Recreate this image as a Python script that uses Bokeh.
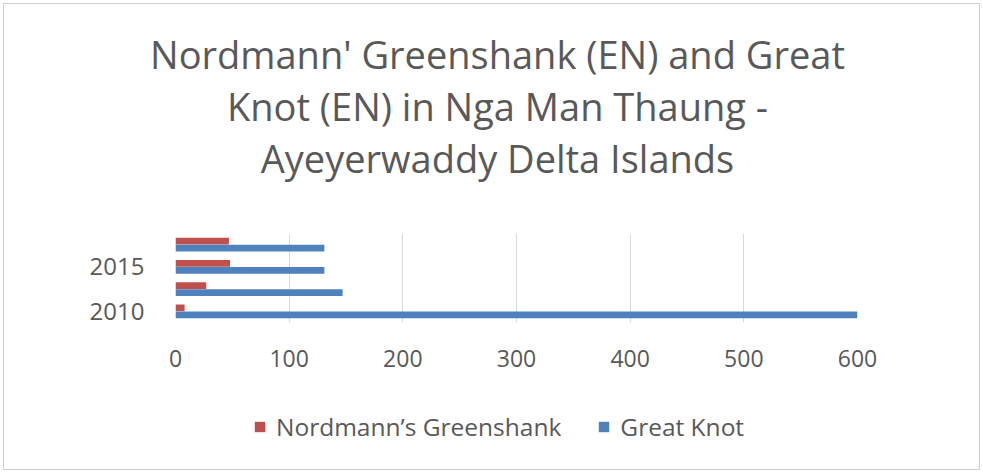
from bokeh.plotting import figure
from bokeh.models import (FactorRange, Range1d, FixedTicker, Legend, LegendItem,
                          ColumnDataSource, CustomJSTickFormatter)
from bokeh.core.properties import value
from bokeh.layouts import column
from bokeh.transform import dodge
from bokeh.embed import file_html
from bokeh.resources import INLINE

# ---- data ----
years = ["2010", "2013", "2015", "2016"]
year_labels = {"2010": "2010", "2013": "", "2015": "2015", "2016": ""}
greenshank = [8, 27, 48, 47]
great_knot = [600, 147, 131, 131]
x_ticks = [0, 100, 200, 300, 400, 500, 600]
title_lines = ["Nordmann' Greenshank (EN) and Great",
               "Knot (EN) in Nga Man Thaung -",
               "Ayeyerwaddy Delta Islands"]
series_names = ["Nordmann\u2019s Greenshank", "Great Knot"]

RED = "#C0504D"
BLUE = "#4F81BD"
TXT = "#595959"
FONT = "Open Sans"
W = 983


def clear(fig):
    fig.border_fill_alpha = 0
    fig.background_fill_alpha = 0
    fig.outline_line_color = None


# ---------------- title strip ----------------
TH = 200
tf = figure(width=W, height=TH, output_backend="svg", toolbar_location=None,
            x_range=Range1d(0, W), y_range=Range1d(TH, 0),
            x_axis_type=None, y_axis_type=None, min_border=0)
clear(tf)
tf.grid.visible = False
tf.text(x=[497] * 3, y=[53, 105, 157], text=title_lines,
        text_align="center", text_baseline="alphabetic",
        text_font=value(FONT), text_font_size="38px", text_color=TXT)

# ---------------- chart ----------------
CT, CB = 33, 58          # borders around the frame
CH = CT + 89 + CB
src = ColumnDataSource(dict(year=years, gs=greenshank, gk=great_knot))
p = figure(width=W, height=CH, output_backend="svg", toolbar_location=None,
           y_range=FactorRange(factors=years, range_padding=0, factor_padding=0),
           x_range=Range1d(0, 600),
           min_border_left=175, min_border_right=W - 857,
           min_border_top=CT, min_border_bottom=CB)
clear(p)

r_gs = p.hbar(y=dodge("year", 0.157, range=p.y_range), right="gs", left=0, height=0.31,
              source=src, fill_color=RED, line_color=None)
r_gk = p.hbar(y=dodge("year", -0.157, range=p.y_range), right="gk", left=0, height=0.31,
              source=src, fill_color=BLUE, line_color=None)

p.xaxis.ticker = FixedTicker(ticks=x_ticks)
p.xgrid.ticker = FixedTicker(ticks=x_ticks)
p.xgrid.grid_line_color = "#d9d9d9"
p.ygrid.grid_line_color = None
for ax in (p.xaxis, p.yaxis):
    ax.axis_line_color = None
    ax.major_tick_line_color = None
    ax.minor_tick_line_color = None
    ax.major_label_text_color = TXT
    ax.major_label_text_font = FONT
    ax.major_label_text_font_size = "23px"
p.yaxis.major_label_text_font_size = "24px"
p.xaxis.major_label_standoff = 21
p.yaxis.major_label_standoff = 25
p.yaxis.formatter = CustomJSTickFormatter(args=dict(labels=year_labels),
                                          code="return labels[tick]")

# ---------------- legend strip ----------------
LH = 473 - TH - CH
lf = figure(width=W, height=LH, output_backend="svg", toolbar_location=None,
            x_range=Range1d(0, 1), y_range=Range1d(0, 1),
            x_axis_type=None, y_axis_type=None, min_border=0)
clear(lf)
lf.grid.visible = False
# off-canvas proxies, only used to draw the legend swatches
l_gs = lf.hbar(y=[-5], right=[1], left=0, height=0.3, fill_color=RED, line_color=None)
l_gk = lf.hbar(y=[-5], right=[1], left=0, height=0.3, fill_color=BLUE, line_color=None)
legend = Legend(items=[LegendItem(label=series_names[0], renderers=[l_gs]),
                       LegendItem(label=series_names[1], renderers=[l_gk])],
                orientation="horizontal", location=(253, 30),
                border_line_color=None, background_fill_alpha=0,
                label_text_font=FONT, label_text_font_size="24.5px", label_text_color=TXT,
                glyph_width=13, glyph_height=13, spacing=36, label_standoff=10,
                padding=0, margin=0)
lf.add_layout(legend, "center")

layout = column(column(tf), p, column(lf), spacing=0,
                styles={"background-color": "white",
                        "outline": "1px solid #d0d0d0", "outline-offset": "-4px"})

open("out.html", "w").write(file_html(layout, INLINE))
